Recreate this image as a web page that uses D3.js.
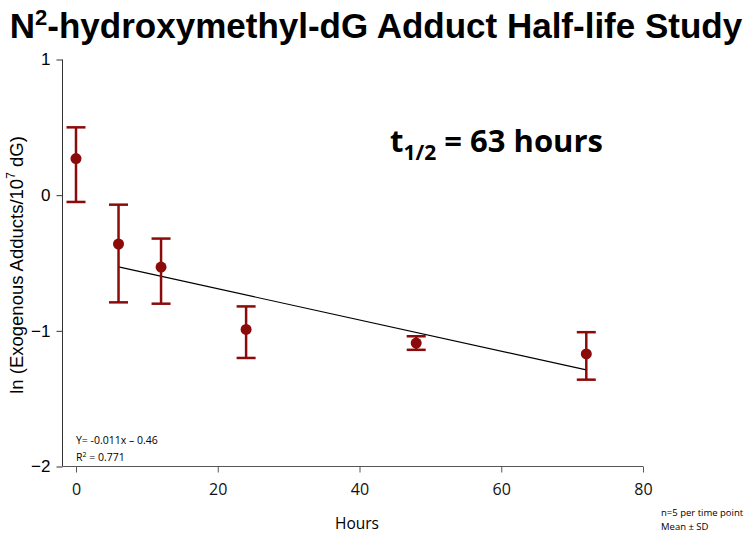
<!DOCTYPE html>
<meta charset="utf-8">
<style>
body { margin: 0; background: #fff; font-family: "Liberation Sans", Arial, sans-serif; }
.errbar { stroke: #8b0a0a; stroke-width: 2.5px; fill: none; }
.dot { fill: #8b0a0a; }
.trend { stroke: #000; stroke-width: 1.2px; fill: none; }
</style>
<body>
<svg id="chart" width="750" height="534"></svg>
<script src="https://cdn.jsdelivr.net/npm/d3@7"></script>
<script>
// time points (hours) and ln values
var hours  = [0, 6, 12, 24, 48, 72];
var lnMean = [0.27, -0.36, -0.53, -0.99, -1.09, -1.17];
var lnHigh = [0.50, -0.07, -0.32, -0.82, -1.04, -1.01];
var lnLow  = [-0.05, -0.79, -0.80, -1.20, -1.14, -1.36];

// fitted line drawn from first to last post-dose point
var trendX = [6, 72];
var slope = -0.0115, intercept = -0.46;

var xTicks = [0, 20, 40, 60, 80];
var yTicks = [1, 0, -1, -2];

var svg = d3.select("#chart");

var x = d3.scaleLinear().domain([0, 80]).range([76, 643]);
var y = d3.scaleLinear().domain([-2, 1]).range([466.5, 59.5]);

// title
var title = svg.append("text")
  .attr("x", 376).attr("y", 38)
  .attr("text-anchor", "middle")
  .style("font-family", "'Liberation Sans', Arial, sans-serif")
  .style("font-weight", "bold")
  .style("font-size", "35px");
title.append("tspan").text("N");
title.append("tspan").attr("dy", -13).style("font-size", "22px").text("2");
title.append("tspan").attr("dy", 13).text("-hydroxymethyl-dG Adduct Half-life Study");

// y axis
var yAxis = svg.append("g")
  .attr("transform", "translate(62.5,0)")
  .call(d3.axisLeft(y).tickValues(yTicks).tickSize(6).tickPadding(6).tickFormat(d3.format("d")));
yAxis.select(".domain").attr("d", "M0," + y(1) + "V" + y(-2)).attr("stroke", "#333");
yAxis.selectAll(".tick line").attr("stroke", "#333");
yAxis.selectAll("text").style("font-size", "17px").style("font-family", "'Liberation Sans', Arial, sans-serif").attr("fill", "#000");

// x axis
var xAxis = svg.append("g")
  .attr("transform", "translate(0," + y(-2) + ")")
  .call(d3.axisBottom(x).tickValues(xTicks).tickSize(6).tickPadding(11));
xAxis.select(".domain").attr("d", "M62.5,0H" + x(80)).attr("stroke", "#555");
xAxis.selectAll(".tick line").attr("stroke", "#555");
xAxis.selectAll("text").style("font-size", "16px").style("font-family", "'Open Sans', sans-serif").attr("fill", "#111");

// axis titles
var yLab = svg.append("text")
  .attr("transform", "translate(23,265) rotate(-90)")
  .attr("text-anchor", "middle")
  .style("font-size", "18.5px");
yLab.append("tspan").text("ln (Exogenous Adducts/10");
yLab.append("tspan").attr("dy", -8).style("font-size", "12px").text("7");
yLab.append("tspan").attr("dy", 8).text(" dG)");

svg.append("text")
  .attr("x", 357).attr("y", 529)
  .attr("text-anchor", "middle")
  .style("font-family", "'Open Sans', sans-serif")
  .style("font-size", "15.5px")
  .text("Hours");

// trend line
svg.append("path")
  .datum(trendX)
  .attr("class", "trend")
  .attr("d", d3.line().x(function(d) { return x(d); }).y(function(d) { return y(slope * d + intercept); }));

// error bars
var pts = hours.map(function(h, i) {
  return {h: h, m: lnMean[i], hi: lnHigh[i], lo: lnLow[i]};
});
var capW = 9.5;
var eb = svg.append("g").selectAll("g").data(pts).enter().append("g");
eb.append("line").attr("class", "errbar")
  .attr("x1", function(d) { return x(d.h); }).attr("x2", function(d) { return x(d.h); })
  .attr("y1", function(d) { return y(d.hi); }).attr("y2", function(d) { return y(d.lo); });
eb.append("line").attr("class", "errbar")
  .attr("x1", function(d) { return x(d.h) - capW; }).attr("x2", function(d) { return x(d.h) + capW; })
  .attr("y1", function(d) { return y(d.hi); }).attr("y2", function(d) { return y(d.hi); });
eb.append("line").attr("class", "errbar")
  .attr("x1", function(d) { return x(d.h) - capW; }).attr("x2", function(d) { return x(d.h) + capW; })
  .attr("y1", function(d) { return y(d.lo); }).attr("y2", function(d) { return y(d.lo); });
eb.append("circle").attr("class", "dot")
  .attr("cx", function(d) { return x(d.h); })
  .attr("cy", function(d) { return y(d.m); })
  .attr("r", 5.5);

// half-life annotation
var th = svg.append("text")
  .attr("x", 390).attr("y", 152)
  .style("font-family", "'Open Sans', sans-serif")
  .style("font-weight", "bold")
  .style("font-size", "31px");
th.append("tspan").text("t");
th.append("tspan").attr("dy", 8).style("font-size", "21px").text("1/2");
th.append("tspan").attr("dy", -8).text(" = 63 hours");

// regression text
var eq = svg.append("g").style("font-family", "'Open Sans', sans-serif").style("font-size", "10.5px");
eq.append("text").attr("x", 76).attr("y", 444).text("Y= -0.011x \u2013 0.46");
var r2 = eq.append("text").attr("x", 76).attr("y", 461);
r2.append("tspan").text("R");
r2.append("tspan").attr("dy", -4).style("font-size", "7px").text("2");
r2.append("tspan").attr("dy", 4).text(" = 0.771");

// footnote
var fn = svg.append("g").style("font-family", "'Open Sans', sans-serif").style("font-size", "9.5px");
fn.append("text").attr("x", 661).attr("y", 516).text("n=5 per time point");
fn.append("text").attr("x", 661).attr("y", 530).text("Mean \u00b1 SD");
</script>
</body>
